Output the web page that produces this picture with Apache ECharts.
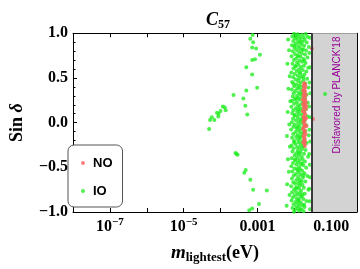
<!DOCTYPE html>
<html><head><meta charset="utf-8">
<script src="https://cdn.jsdelivr.net/npm/echarts@6/dist/echarts.min.js"></script>
<style>html,body{margin:0;padding:0;background:#fff}#c{width:360px;height:269px}</style>
</head><body><div id="c"></div>
<script>
// ---- data ----
const xTickLabels = {'-7': '{b|10}{s|−7}', '-5': '{b|10}{s|−5}', '-3': '0.001', '-1': '0.100'};
const yTicks = [-1, -0.5, 0, 0.5, 1];
const planckBound = 0.03;
const xMin = 1e-8, xMax = 0.5;

const noPts = [
[0.0185,0.44],[0.0195,0.43],[0.0178,0.41],[0.0201,0.40],[0.0188,0.38],[0.0172,0.36],[0.0196,0.35],
[0.0183,0.33],[0.0205,0.31],[0.0176,0.30],[0.0191,0.28],[0.0169,0.26],[0.0199,0.25],[0.0186,0.23],
[0.0174,0.21],[0.0193,0.19],[0.0181,0.17],[0.0203,0.15],[0.0171,0.13],[0.0189,0.11],[0.0197,0.09],
[0.0179,0.07],[0.0185,0.05],[0.0192,0.03],[0.0176,0.01],[0.0188,-0.01],[0.0199,-0.03],[0.0182,-0.05],
[0.0173,-0.07],[0.0194,-0.09],[0.0186,-0.11],[0.0201,-0.13],[0.0178,-0.15],[0.0190,-0.17],[0.0184,-0.19],
[0.0196,-0.21],[0.0175,-0.22],[0.0188,-0.24],[0.0193,-0.26],[0.0206,0.22],[0.0209,0.18],[0.0211,-0.04],
[0.0208,0.05],[0.032,0.04],[0.030,0.83]
];

const ioSparse = [
[7.4e-4,0.98],[6.4e-4,0.94],[7.65e-4,0.90],[7.2e-4,0.84],[9.2e-4,0.83],[1.17e-3,0.76],[7.2e-4,0.70],
[8.6e-4,0.71],[5.0e-4,0.62],[7.2e-4,0.54],[9.8e-4,0.39],[5.0e-4,0.36],[2.25e-4,0.31],[4.15e-4,0.27],
[4.7e-4,0.19],[1.15e-4,0.18],[1.3e-4,0.17],[1.38e-4,0.14],[1.0e-4,0.13],[8.0e-5,0.11],[8.85e-5,0.10],
[8.7e-5,0.07],[5.3e-4,0.09],[5.8e-5,0.06],[6.8e-5,0.03],[5.2e-5,0.03],[4.9e-5,-0.07],[2.55e-4,-0.34],
[2.7e-4,-0.35],[2.9e-4,-0.36],[4.8e-4,-0.53],[4.4e-4,-0.56],[6.4e-4,-0.64],[7.65e-4,-0.75],[1.8e-3,-0.76],
[1.1e-3,-0.91],[7.2e-4,-0.96],[6.0e-4,-0.98],[0.068,0.32]
];

const ioDense = [
[0.0098,0.995],[0.0125,0.99],[0.0162,0.985],[0.0205,0.992],[0.0112,0.975],
[0.0088,0.965],[0.0138,0.96],[0.0178,0.955],[0.0231,0.962],[0.0105,0.945],
[0.0149,0.935],[0.0121,0.925],[0.0192,0.928],[0.0094,0.915],[0.0168,0.905],
[0.0132,0.895],[0.0218,0.898],[0.0109,0.885],[0.0155,0.872],[0.0086,0.865],
[0.0185,0.862],[0.0126,0.852],[0.0248,0.848],[0.0101,0.838],[0.0142,0.832],
[0.0172,0.822],[0.0116,0.812],[0.0208,0.808],[0.0091,0.798],[0.0135,0.79],
[0.0159,0.778],[0.0104,0.768],[0.0195,0.762],[0.0123,0.752],[0.0084,0.742],
[0.0147,0.738],[0.0228,0.728],[0.0112,0.718],[0.0176,0.712],[0.0097,0.702],
[0.0138,0.692],[0.0163,0.682],[0.0119,0.672],[0.0202,0.668],[0.0089,0.658],
[0.0129,0.648],[0.0182,0.638],[0.0107,0.628],[0.0152,0.622],[0.0238,0.615],
[0.0095,0.605],[0.0134,0.598],[0.0169,0.588],[0.0115,0.578],[0.0211,0.572],
[0.0083,0.562],[0.0144,0.552],[0.0102,0.545],[0.0188,0.538],[0.0124,0.528],
[0.0158,0.518],[0.0093,0.508],[0.0136,0.498],[0.0222,0.492],[0.0109,0.482],
[0.0175,0.475],[0.0127,0.465],[0.0087,0.455],[0.0149,0.448],[0.0198,0.438],
[0.0114,0.428],[0.0139,0.418],[0.0099,0.408],[0.0165,0.402],[0.0242,0.392],
[0.0121,0.382],[0.0085,0.372],[0.0153,0.365],[0.0106,0.355],[0.0184,0.348],
[0.0131,0.338],[0.0096,0.328],[0.0146,0.318],[0.0215,0.312],[0.0118,0.302],
[0.0091,0.292],[0.0162,0.288],[0.0128,0.278],[0.0195,0.272],[0.0104,0.262],
[0.0141,0.255],[0.0087,0.245],[0.0173,0.238],[0.0117,0.228],[0.0232,0.222],
[0.0098,0.212],[0.0152,0.205],[0.0125,0.195],[0.0186,0.188],[0.0083,0.178],
[0.0137,0.172],[0.0109,0.162],[0.0166,0.155],[0.0205,0.148],[0.0094,0.138],
[0.0143,0.132],[0.0119,0.122],[0.0179,0.115],[0.0088,0.105],[0.0132,0.098],
[0.0156,0.088],[0.0101,0.078],[0.0225,0.072],[0.0123,0.062],[0.0169,0.055],
[0.0092,0.045],[0.0139,0.038],[0.0111,0.028],[0.0191,0.022],[0.0148,0.012],
[0.0086,0.005],[0.0127,-0.005],[0.0162,-0.012],[0.0103,-0.022],[0.0212,-0.028],
[0.0135,-0.038],[0.0095,-0.045],[0.0176,-0.055],[0.0116,-0.062],[0.0151,-0.072],
[0.0082,-0.078],[0.0129,-0.088],[0.0199,-0.095],[0.0107,-0.105],[0.0145,-0.112],
[0.0171,-0.122],[0.0093,-0.128],[0.0122,-0.138],[0.0245,-0.142],[0.0158,-0.152],
[0.0112,-0.162],[0.0087,-0.168],[0.0141,-0.178],[0.0189,-0.185],[0.0126,-0.195],
[0.0099,-0.202],[0.0164,-0.212],[0.0133,-0.222],[0.0216,-0.228],[0.0108,-0.238],
[0.0149,-0.245],[0.0084,-0.255],[0.0178,-0.262],[0.0119,-0.272],[0.0138,-0.282],
[0.0096,-0.288],[0.0161,-0.298],[0.0202,-0.305],[0.0124,-0.315],[0.0089,-0.322],
[0.0146,-0.332],[0.0113,-0.342],[0.0183,-0.348],[0.0131,-0.358],[0.0102,-0.368],
[0.0155,-0.375],[0.0236,-0.382],[0.0121,-0.392],[0.0085,-0.398],[0.0168,-0.408],
[0.0139,-0.418],[0.0106,-0.425],[0.0194,-0.435],[0.0127,-0.442],[0.0092,-0.452],
[0.0152,-0.462],[0.0115,-0.468],[0.0174,-0.478],[0.0083,-0.488],[0.0135,-0.495],
[0.0209,-0.505],[0.0101,-0.512],[0.0144,-0.522],[0.0123,-0.532],[0.0163,-0.538],
[0.0088,-0.548],[0.0131,-0.558],[0.0187,-0.565],[0.0109,-0.575],[0.0148,-0.582],
[0.0097,-0.592],[0.0226,-0.598],[0.0126,-0.608],[0.0171,-0.615],[0.0086,-0.625],
[0.0137,-0.635],[0.0114,-0.642],[0.0158,-0.652],[0.0199,-0.658],[0.0094,-0.668],
[0.0129,-0.678],[0.0105,-0.685],[0.0166,-0.695],[0.0142,-0.702],[0.0082,-0.712],
[0.0118,-0.722],[0.0181,-0.728],[0.0134,-0.738],[0.0099,-0.745],[0.0241,-0.752],
[0.0153,-0.762],[0.0111,-0.772],[0.0087,-0.778],[0.0138,-0.788],[0.0192,-0.795],
[0.0124,-0.805],[0.0102,-0.812],[0.0161,-0.822],[0.0146,-0.832],[0.0091,-0.838],
[0.0117,-0.848],[0.0175,-0.855],[0.0132,-0.865],[0.0084,-0.872],[0.0212,-0.878],
[0.0108,-0.888],[0.0149,-0.895],[0.0127,-0.905],[0.0096,-0.912],[0.0168,-0.922],
[0.0139,-0.932],[0.0113,-0.938],[0.0189,-0.945],[0.0089,-0.955],[0.0122,-0.962],
[0.0156,-0.968],[0.0104,-0.978],[0.0135,-0.985],[0.0178,-0.992],[0.0098,-0.998]
];

const ioFill = [
[0.0068,0.93],[0.0262,0.95],[0.0072,0.81],[0.0255,0.78],[0.0065,0.66],[0.0268,0.62],[0.0075,0.52],
[0.0258,0.45],[0.0069,0.38],[0.0271,0.33],[0.0078,0.24],[0.0252,0.18],[0.0066,0.12],[0.0264,0.06],
[0.0073,-0.02],[0.0257,-0.08],[0.0063,-0.15],[0.0269,-0.21],[0.0076,-0.27],[0.0253,-0.35],[0.0067,-0.41],
[0.0261,-0.47],[0.0071,-0.55],[0.0266,-0.61],[0.0064,-0.69],[0.0254,-0.74],[0.0074,-0.81],[0.0259,-0.88],
[0.0062,-0.93],[0.0267,-0.97],
[0.0115,0.958],[0.0145,0.905],[0.0101,0.862],[0.0165,0.812],[0.0128,0.742],[0.0187,0.695],[0.0108,0.635],
[0.0141,0.565],[0.0176,0.505],[0.0095,0.438],[0.0133,0.392],[0.0159,0.325],[0.0112,0.268],[0.0181,0.218],
[0.0128,0.148],[0.0104,0.085],[0.0166,0.032],[0.0121,-0.048],[0.0183,-0.102],[0.0138,-0.158],[0.0098,-0.218],
[0.0172,-0.268],[0.0134,-0.338],[0.0105,-0.412],[0.0162,-0.455],[0.0119,-0.518],[0.0175,-0.588],[0.0144,-0.662],
[0.0111,-0.732],[0.0165,-0.802],[0.0128,-0.872],[0.0185,-0.918],[0.0143,-0.975]
];

// ---- chart ----
const SERIF = '"Liberation Serif","Times New Roman",serif';
const SANS = '"Liberation Sans",Arial,sans-serif';
const chart = echarts.init(document.getElementById('c'), null, {renderer: 'canvas'});
const axisLineStyle = {show: true, onZero: false, lineStyle: {color: '#000', width: 1}};
const xLabelRich = {
  b: {fontFamily: SERIF, fontWeight: 'bold', fontSize: 16, lineHeight: 20, color: '#000'},
  s: {fontFamily: SERIF, fontWeight: 'bold', fontSize: 11, lineHeight: 10, verticalAlign: 'top', color: '#000'}
};
chart.setOption({
  animation: false,
  title: {
    text: '{c|C}{s|57}', left: 213, top: 4, textAlign: 'center',
    textStyle: {rich: {
      c: {fontFamily: SERIF, fontStyle: 'italic', fontWeight: 'bold', fontSize: 18, lineHeight: 22, color: '#000'},
      s: {fontFamily: SERIF, fontWeight: 'bold', fontSize: 12, lineHeight: 14, verticalAlign: 'bottom', color: '#000'}
    }}
  },
  grid: {left: 67.7, top: 33.3, right: 1.7, bottom: 56.3, containLabel: false},
  legend: {
    data: ['NO', 'IO'], orient: 'vertical', left: 68, top: 145,
    icon: 'circle', itemWidth: 4, itemHeight: 4, itemGap: 14,
    padding: [11, 10, 9, 13], borderColor: '#555', borderWidth: 1, borderRadius: 6,
    backgroundColor: '#fff',
    textStyle: {fontFamily: SANS, fontWeight: 'bold', fontSize: 13, lineHeight: 14, color: '#000', padding: [0, 0, 0, 3]}
  },
  xAxis: [{
    type: 'log', logBase: 10, min: xMin, max: xMax, position: 'bottom',
    axisLine: axisLineStyle, splitLine: {show: false},
    axisTick: {show: true, inside: true, length: 4, lineStyle: {color: '#000'}},
    axisLabel: {
      margin: 5, color: '#000', fontFamily: SERIF, fontWeight: 'bold', fontSize: 16, lineHeight: 20,
      showMinLabel: true, showMaxLabel: true,
      formatter: function (v) {
        const e = Math.round(Math.log10(v));
        if (Math.abs(Math.log10(v) - e) > 1e-6) return '';
        const t = xTickLabels[String(e)];
        return t ? t : '';
      },
      rich: xLabelRich
    },
    name: '{m|m}{s|lightest}{u|(eV)}', nameLocation: 'middle', nameGap: 30,
    nameTextStyle: {rich: {
      m: {fontFamily: SERIF, fontStyle: 'italic', fontWeight: 'bold', fontSize: 19, lineHeight: 22, color: '#000'},
      s: {fontFamily: SERIF, fontWeight: 'bold', fontSize: 13, lineHeight: 12, verticalAlign: 'bottom', color: '#000'},
      u: {fontFamily: SERIF, fontWeight: 'bold', fontSize: 18, lineHeight: 22, color: '#000'}
    }}
  }, {
    type: 'log', logBase: 10, min: xMin, max: xMax, position: 'top',
    axisLine: axisLineStyle, splitLine: {show: false},
    axisTick: {show: true, inside: true, length: 4, lineStyle: {color: '#000'}},
    axisLabel: {show: false}
  }],
  yAxis: [{
    type: 'value', min: yTicks[0], max: yTicks[yTicks.length - 1], interval: 0.5, position: 'left',
    axisLine: axisLineStyle, splitLine: {show: false},
    axisTick: {show: true, inside: true, length: 4, lineStyle: {color: '#000'}},
    minorTick: {show: true, splitNumber: 5, length: 2.5, lineStyle: {color: '#000'}},
    axisLabel: {
      margin: 5, color: '#000', fontFamily: SERIF, fontWeight: 'bold', fontSize: 16,
      formatter: function (v) { return (Math.abs(v) < 1e-9 ? 0 : v).toFixed(1).replace('-', '−'); }
    },
    name: '{b|Sin }{i|δ}', nameLocation: 'middle', nameGap: 47, nameRotate: 90,
    nameTextStyle: {rich: {
      b: {fontFamily: SERIF, fontWeight: 'bold', fontSize: 18, color: '#000'},
      i: {fontFamily: SERIF, fontStyle: 'italic', fontWeight: 'bold', fontSize: 18, color: '#000'}
    }}
  }, {
    type: 'value', min: yTicks[0], max: yTicks[yTicks.length - 1], interval: 0.5, position: 'right',
    axisLine: axisLineStyle, splitLine: {show: false},
    axisTick: {show: true, inside: true, length: 4, lineStyle: {color: '#000'}},
    minorTick: {show: true, splitNumber: 5, length: 2.5, lineStyle: {color: '#000'}},
    axisLabel: {show: false}
  }],
  series: [{
    name: 'planck', type: 'line', data: [], z: 1, silent: true,
    markArea: {silent: true, itemStyle: {color: '#d3d3d3'},
      data: [[{xAxis: planckBound}, {xAxis: xMax}]]},
    markLine: {silent: true, symbol: 'none', label: {show: false},
      lineStyle: {color: '#3a3a3a', width: 2, type: 'solid'},
      data: [{xAxis: planckBound}]}
  }, {
    name: 'IO', type: 'scatter', z: 3, symbolSize: 4,
    itemStyle: {color: '#22ee22'},
    data: ioSparse.concat(ioDense, ioFill)
  }, {
    name: 'NO', type: 'scatter', z: 4, symbolSize: 4,
    itemStyle: {color: '#ff6060'},
    data: noPts
  }],
  graphic: [{
    type: 'text', x: 337.5, y: 95, rotation: Math.PI / 2, z: 10,
    style: {text: "Disfavored by PLANCK'18", fill: '#990099', font: '10px "Liberation Sans", Arial, sans-serif',
      align: 'center', verticalAlign: 'middle'}
  }]
});
</script>
</body></html>
